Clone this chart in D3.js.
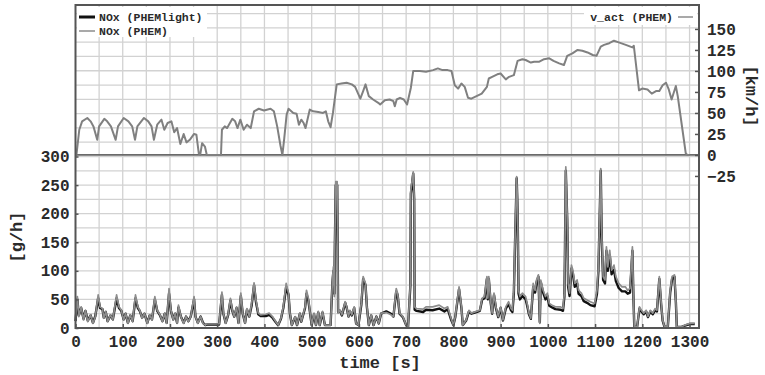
<!DOCTYPE html>
<html>
<head>
<meta charset="utf-8">
<script src="https://cdn.jsdelivr.net/npm/d3@7"></script>
<style>
body { margin: 0; background: #fff; }
svg { display: block; }
</style>
</head>
<body>
<svg id="chart" width="765" height="375"></svg>
<script>
const timeTicks = [0, 100, 200, 300, 400, 500, 600, 700, 800, 900, 1000, 1100, 1200, 1300];
const noxTicks = [0, 50, 100, 150, 200, 250, 300];
const speedTicks = [-25, 0, 25, 50, 75, 100, 125, 150];

// v_act (PHEM) [km/h], pairs of [time s, speed]
const speedPhem = [[0,0],[2,0],[8,30],[14,40],[25,44],[32,40],[38,34],[46,18],[50,34],[61,43],[67,40],[75,34],[85,18],[90,34],[102,44],[112,40],[120,34],[126,18],[131,34],[145,44],[154,40],[161,34],[166,18],[173,36],[182,42],[188,30],[195,38],[203,40],[209,27],[215,32],[222,13],[229,25],[235,15],[242,18],[251,25],[256,24],[261,2],[264,0],[268,14],[274,10],[278,0],[308,0],[310,30],[316,34],[321,32],[332,43],[338,40],[343,32],[349,42],[356,30],[363,36],[371,32],[378,52],[388,55],[399,53],[413,55],[420,52],[427,34],[434,11],[438,0],[442,20],[447,48],[451,55],[461,50],[468,49],[473,36],[478,42],[483,38],[487,32],[496,54],[503,52],[514,51],[524,50],[530,52],[535,40],[540,33],[545,50],[553,84],[563,85],[574,86],[585,84],[592,81],[603,67],[609,76],[614,84],[621,70],[630,66],[641,62],[645,60],[655,65],[665,66],[673,64],[676,58],[680,66],[687,68],[695,66],[702,60],[710,80],[715,100],[729,100],[742,99],[757,101],[767,103],[777,101],[788,101],[796,100],[803,83],[810,79],[817,85],[824,81],[831,68],[838,67],[849,70],[860,73],[871,81],[875,91],[882,93],[893,96],[900,97],[911,90],[918,93],[928,95],[936,112],[946,114],[953,113],[964,110],[971,111],[982,111],[992,114],[1003,115],[1012,112],[1024,109],[1034,107],[1041,118],[1052,121],[1063,125],[1073,124],[1084,122],[1095,119],[1103,118],[1112,129],[1119,131],[1130,133],[1140,136],[1150,134],[1165,131],[1179,128],[1182,130],[1193,77],[1200,79],[1211,78],[1220,73],[1229,76],[1236,76],[1243,83],[1250,86],[1256,78],[1262,66],[1271,82],[1275,70],[1285,30],[1292,2],[1295,0],[1300,0]];

// NOx (PHEM) [g/h]
const noxPhem = [[0,15],[4,55],[7,20],[12,37],[17,14],[21,31],[26,11],[32,23],[37,8],[42,20],[48,58],[52,37],[57,34],[60,17],[64,29],[68,11],[74,23],[79,14],[87,58],[92,37],[97,31],[102,14],[106,26],[111,8],[116,23],[121,11],[127,58],[132,37],[136,31],[141,17],[146,26],[152,8],[157,23],[162,14],[168,55],[173,31],[179,23],[184,11],[189,26],[193,8],[198,69],[202,31],[207,14],[211,26],[215,8],[218,40],[223,20],[229,8],[234,20],[239,11],[244,20],[251,55],[254,20],[259,8],[265,20],[270,8],[275,5],[278,7],[304,7],[310,63],[313,26],[318,8],[323,23],[328,52],[332,31],[336,20],[341,37],[345,8],[350,61],[354,26],[359,8],[363,34],[368,20],[373,43],[378,79],[382,49],[387,26],[392,23],[403,24],[410,26],[417,20],[424,11],[429,5],[435,17],[440,37],[446,78],[451,61],[454,26],[458,5],[465,20],[469,5],[475,26],[478,11],[486,37],[489,66],[493,52],[496,31],[500,5],[505,26],[509,5],[514,29],[517,5],[523,29],[528,5],[540,5],[544,84],[546,107],[548,55],[549,148],[551,256],[554,256],[556,26],[560,31],[564,23],[571,46],[574,37],[578,20],[581,31],[585,23],[590,37],[594,8],[599,5],[605,43],[609,90],[614,78],[617,37],[621,5],[626,23],[631,5],[637,20],[642,8],[647,26],[658,27],[668,23],[673,20],[679,69],[682,61],[686,26],[693,20],[700,5],[704,2],[707,49],[709,78],[710,241],[715,273],[717,230],[718,37],[722,34],[736,33],[742,37],[756,37],[770,40],[781,34],[788,37],[795,17],[800,5],[804,20],[812,72],[817,37],[820,5],[827,14],[833,31],[838,26],[849,29],[856,31],[861,52],[866,55],[871,90],[873,52],[875,90],[879,46],[882,26],[886,61],[890,37],[895,20],[900,37],[905,14],[911,37],[917,46],[922,34],[925,31],[928,66],[931,171],[934,265],[936,212],[938,66],[941,55],[946,61],[953,55],[956,43],[960,26],[964,17],[969,78],[973,66],[976,84],[980,93],[983,8],[985,84],[990,66],[995,55],[999,61],[1003,43],[1009,40],[1016,37],[1027,37],[1032,34],[1035,61],[1036,125],[1038,282],[1041,195],[1043,78],[1046,61],[1050,110],[1053,101],[1057,78],[1062,84],[1065,66],[1071,61],[1076,52],[1083,49],[1090,46],[1099,43],[1104,66],[1107,107],[1112,279],[1114,166],[1117,90],[1121,84],[1124,142],[1127,107],[1131,136],[1135,101],[1140,110],[1144,90],[1150,78],[1157,72],[1164,72],[1169,66],[1174,69],[1179,142],[1181,66],[1183,2],[1189,2],[1194,37],[1198,31],[1203,26],[1208,31],[1212,20],[1217,31],[1222,26],[1227,34],[1231,31],[1236,90],[1240,43],[1243,14],[1247,2],[1254,2],[1259,66],[1263,90],[1268,93],[1271,49],[1273,2],[1283,2],[1290,5],[1301,8],[1311,8]];

// NOx (PHEMlight) [g/h]
const noxPhemlight = [[0,12],[4,50],[7,22],[12,35],[17,16],[21,30],[26,13],[32,22],[37,9],[42,21],[48,52],[52,35],[57,33],[60,18],[64,28],[68,12],[74,22],[79,15],[87,52],[92,35],[97,30],[102,15],[106,25],[111,9],[116,22],[121,12],[127,52],[132,35],[136,30],[141,18],[146,25],[152,9],[157,22],[162,15],[168,50],[173,30],[179,22],[184,12],[189,25],[193,9],[198,60],[202,30],[207,15],[211,25],[215,9],[218,36],[223,20],[229,9],[234,20],[239,12],[244,20],[251,50],[254,20],[259,9],[265,20],[270,9],[275,5],[278,6],[304,6],[310,58],[313,25],[318,9],[323,22],[328,48],[332,30],[336,20],[341,35],[345,9],[350,56],[354,25],[359,9],[363,32],[368,20],[373,40],[378,75],[382,46],[387,24],[392,21],[403,21],[410,23],[417,18],[424,10],[429,5],[435,16],[440,35],[446,72],[451,58],[454,25],[458,5],[465,19],[469,5],[475,25],[478,11],[486,35],[489,60],[493,48],[496,30],[500,5],[505,24],[509,5],[514,27],[517,5],[523,27],[528,5],[540,5],[544,80],[546,100],[548,60],[549,140],[551,250],[554,250],[556,28],[560,30],[564,22],[571,44],[574,36],[578,20],[581,29],[585,22],[590,35],[594,8],[599,5],[605,40],[609,86],[614,75],[617,36],[621,5],[626,22],[631,5],[637,20],[642,8],[647,25],[658,29],[668,25],[673,20],[679,64],[682,58],[686,25],[693,19],[700,5],[704,2],[707,45],[709,75],[710,235],[715,270],[717,225],[718,32],[722,30],[736,28],[742,32],[756,31],[770,34],[781,29],[788,33],[795,15],[800,5],[804,19],[812,68],[817,35],[820,5],[827,13],[833,29],[838,25],[849,28],[856,30],[861,50],[866,52],[871,86],[873,50],[875,86],[879,44],[882,25],[886,58],[890,35],[895,19],[900,35],[905,13],[911,34],[917,42],[922,31],[925,28],[928,60],[931,165],[934,262],[936,205],[938,60],[941,50],[946,56],[953,50],[956,40],[960,24],[964,16],[969,72],[973,62],[976,80],[980,90],[983,10],[985,80],[990,62],[995,50],[999,56],[1003,39],[1009,36],[1016,33],[1027,32],[1032,30],[1035,55],[1036,118],[1038,275],[1041,190],[1043,72],[1046,56],[1050,104],[1053,95],[1057,72],[1062,78],[1065,60],[1071,56],[1076,47],[1083,44],[1090,40],[1099,38],[1104,60],[1107,100],[1112,275],[1114,160],[1117,84],[1121,78],[1124,135],[1127,100],[1131,128],[1135,94],[1140,102],[1144,82],[1150,70],[1157,64],[1164,64],[1169,60],[1174,62],[1179,135],[1181,60],[1183,2],[1189,2],[1194,34],[1198,29],[1203,24],[1208,29],[1212,19],[1217,29],[1222,24],[1227,31],[1231,29],[1236,86],[1240,40],[1243,13],[1247,2],[1254,2],[1259,62],[1263,86],[1268,90],[1271,46],[1273,2],[1283,2],[1290,4],[1301,7],[1311,7]];

const PLOT = {left: 75.5, right: 699, top: 5, bottom: 328};
const FONT = "'Liberation Mono', 'Courier New', monospace";
const TEXT = "#2a2a2a";
const GRAY = "#8c8c8c";

const svg = d3.select("#chart");

const x = d3.scaleLinear().domain([0, 1320]).range([PLOT.left, PLOT.right]);
const yNox = d3.scaleLinear().domain([0, 565]).range([PLOT.bottom, PLOT.top]);
const ySpeed = d3.scaleLinear().domain([-206, 178.5]).range([PLOT.bottom, PLOT.top]);

// Grid
const grid = svg.append("g").attr("stroke", "#d2d2d2").attr("stroke-width", 1.3);
grid.selectAll("line.v")
	.data(d3.range(50, 1320, 50))
	.join("line")
	.attr("class", "v")
	.attr("x1", d => x(d)).attr("x2", d => x(d))
	.attr("y1", PLOT.top).attr("y2", PLOT.bottom);
grid.selectAll("line.h")
	.data(d3.range(25, 565, 25))
	.join("line")
	.attr("class", "h")
	.attr("x1", PLOT.left).attr("x2", PLOT.right)
	.attr("y1", d => yNox(d)).attr("y2", d => yNox(d));

// speed zero line
svg.append("line")
	.attr("x1", PLOT.left).attr("x2", PLOT.right)
	.attr("y1", ySpeed(0)).attr("y2", ySpeed(0))
	.attr("stroke", "#6a6a6a")
	.attr("stroke-width", 1.8);

const noxLine = d3.line().x(d => x(d[0])).y(d => yNox(d[1]));
const speedLine = d3.line().x(d => x(d[0])).y(d => ySpeed(d[1]));

svg.append("path")
	.datum(noxPhemlight)
	.attr("d", noxLine)
	.attr("fill", "none")
	.attr("stroke", "#111")
	.attr("stroke-width", 2.4)
	.attr("stroke-linejoin", "round");

svg.append("path")
	.datum(noxPhem)
	.attr("d", noxLine)
	.attr("fill", "none")
	.attr("stroke", GRAY)
	.attr("stroke-width", 1.7)
	.attr("stroke-linejoin", "round");

svg.append("path")
	.datum(speedPhem)
	.attr("d", speedLine)
	.attr("fill", "none")
	.attr("stroke", "#808080")
	.attr("stroke-width", 2)
	.attr("stroke-linejoin", "round");

// Legends
svg.append("rect").attr("x", 77).attr("y", 7).attr("width", 130).attr("height", 30).attr("fill", "#fff");
svg.append("rect").attr("x", 584).attr("y", 7).attr("width", 113).attr("height", 18).attr("fill", "#fff");

const legend = [
	{label: "NOx (PHEMlight)", color: "#111", width: 3, y: 17},
	{label: "NOx (PHEM)", color: GRAY, width: 1.5, y: 31}
];
legend.forEach(l => {
	svg.append("line")
		.attr("x1", 79).attr("x2", 95)
		.attr("y1", l.y).attr("y2", l.y)
		.attr("stroke", l.color).attr("stroke-width", l.width);
	svg.append("text")
		.attr("x", 99).attr("y", l.y).attr("dy", "0.35em")
		.attr("font-family", FONT).attr("font-size", "11.5px")
		.attr("font-weight", "bold")
		.attr("fill", TEXT)
		.text(l.label);
});
svg.append("text")
	.attr("x", 673).attr("y", 17).attr("dy", "0.35em")
	.attr("text-anchor", "end")
	.attr("font-family", FONT).attr("font-size", "11.5px")
	.attr("font-weight", "bold")
	.attr("fill", TEXT)
	.text("v_act (PHEM)");
svg.append("line")
	.attr("x1", 678).attr("x2", 693)
	.attr("y1", 17).attr("y2", 17)
	.attr("stroke", GRAY).attr("stroke-width", 1.5);

// Frame
svg.append("rect")
	.attr("x", PLOT.left).attr("y", PLOT.top)
	.attr("width", PLOT.right - PLOT.left)
	.attr("height", PLOT.bottom - PLOT.top)
	.attr("fill", "none")
	.attr("stroke", "#555")
	.attr("stroke-width", 2);

// Axes
function styleAxis(g) {
	g.select(".domain").remove();
	g.selectAll(".tick line").attr("stroke", "#555").attr("stroke-width", 1.5);
	g.selectAll(".tick text")
		.attr("font-family", FONT)
		.attr("font-size", "16px")
		.attr("font-weight", "bold")
		.attr("fill", TEXT);
}

svg.append("g")
	.attr("transform", `translate(${PLOT.left},0)`)
	.call(d3.axisLeft(yNox).tickValues(noxTicks).tickFormat(d3.format("d")).tickSize(-3).tickPadding(6))
	.call(styleAxis);

svg.append("g")
	.attr("transform", `translate(0,${PLOT.bottom})`)
	.call(d3.axisBottom(x).tickValues(timeTicks).tickFormat(d3.format("d")).tickSize(-4).tickPadding(8))
	.call(styleAxis);

svg.append("g")
	.attr("transform", `translate(${PLOT.right},0)`)
	.call(d3.axisRight(ySpeed).tickValues(speedTicks).tickFormat(d3.format("d")).tickSize(-4).tickPadding(8))
	.call(styleAxis);

// Axis titles
svg.append("text")
	.attr("x", 380).attr("y", 362).attr("dy", "0.35em")
	.attr("text-anchor", "middle")
	.attr("font-family", FONT).attr("font-size", "17px")
	.attr("font-weight", "bold")
	.attr("fill", TEXT)
	.text("time [s]");

svg.append("text")
	.attr("transform", "translate(16,237) rotate(-90)")
	.attr("dy", "0.35em")
	.attr("text-anchor", "middle")
	.attr("font-family", FONT).attr("font-size", "17px")
	.attr("font-weight", "bold")
	.attr("fill", TEXT)
	.text("[g/h]");

svg.append("text")
	.attr("transform", "translate(752,96) rotate(90)")
	.attr("dy", "0.35em")
	.attr("text-anchor", "middle")
	.attr("font-family", FONT).attr("font-size", "17px")
	.attr("font-weight", "bold")
	.attr("fill", TEXT)
	.text("[km/h]");
</script>
</body>
</html>
